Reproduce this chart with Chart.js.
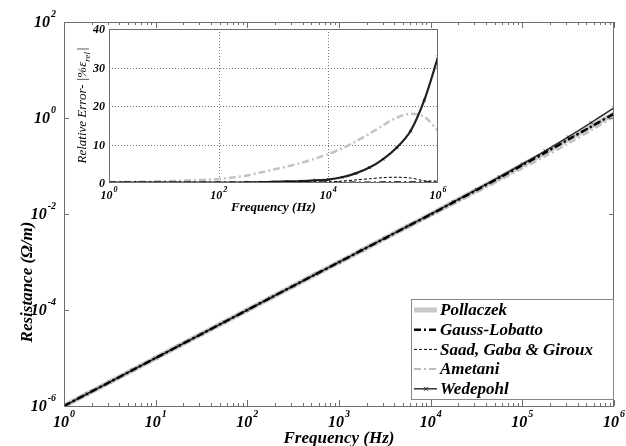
<!DOCTYPE html>
<html>
<head>
<meta charset="utf-8">
<script src="https://cdn.jsdelivr.net/npm/chart.js"></script>
<style>
  body { margin: 0; background: #fff; }
  #wrap { position: relative; width: 626px; height: 446px; }
  #wrap canvas { position: absolute; left: 0; top: 0; }
</style>
</head>
<body>
<div id="wrap">
  <canvas id="mainChart" width="626" height="446"></canvas>
  <canvas id="insetChart" width="626" height="446"></canvas>
</div>
<script>
// frequencies, quarter decade steps (Hz)
const freq = [1, 1.778, 3.162, 5.623, 10, 17.78, 31.62, 56.23, 100, 177.8, 316.2, 562.3,
  1000, 1778, 3162, 5623, 10000, 17783, 31623, 56234, 100000, 177828, 316228, 562341, 1000000];

// resistance (ohm/m)
const rPollaczek = [1.0e-6, 1.78e-6, 3.16e-6, 5.62e-6, 1.0e-5, 1.78e-5, 3.16e-5, 5.62e-5, 1.0e-4, 1.78e-4, 3.16e-4, 5.62e-4,
  9.9e-4, 1.76e-3, 3.12e-3, 5.55e-3, 9.8e-3, 1.76e-2, 3.15e-2, 5.7e-2, 0.104, 0.19, 0.355, 0.66, 1.23];
const rGauss = [1.0e-6, 1.78e-6, 3.16e-6, 5.62e-6, 1.0e-5, 1.78e-5, 3.16e-5, 5.62e-5, 1.0e-4, 1.78e-4, 3.16e-4, 5.62e-4,
  9.9e-4, 1.76e-3, 3.12e-3, 5.55e-3, 9.8e-3, 1.76e-2, 3.15e-2, 5.7e-2, 0.104, 0.19, 0.355, 0.66, 1.23];
const rSaad = [1.0e-6, 1.78e-6, 3.16e-6, 5.62e-6, 1.0e-5, 1.78e-5, 3.16e-5, 5.62e-5, 1.0e-4, 1.78e-4, 3.16e-4, 5.62e-4,
  9.9e-4, 1.76e-3, 3.12e-3, 5.56e-3, 9.83e-3, 1.77e-2, 3.18e-2, 5.76e-2, 0.1055, 0.193, 0.36, 0.664, 1.236];
const rAmetani = [1.0e-6, 1.78e-6, 3.15e-6, 5.6e-6, 0.995e-5, 1.77e-5, 3.14e-5, 5.57e-5, 0.99e-4, 1.755e-4, 3.1e-4, 5.47e-4,
  9.55e-4, 1.68e-3, 2.96e-3, 5.2e-3, 9.07e-3, 1.6e-2, 2.81e-2, 4.97e-2, 0.0884, 0.158, 0.291, 0.546, 1.063];
const rWedepohl = [1.0e-6, 1.78e-6, 3.16e-6, 5.62e-6, 1.0e-5, 1.78e-5, 3.16e-5, 5.62e-5, 1.0e-4, 1.78e-4, 3.16e-4, 5.63e-4,
  9.93e-4, 1.77e-3, 3.14e-3, 5.59e-3, 9.9e-3, 1.79e-2, 3.23e-2, 5.93e-2, 0.110, 0.207, 0.403, 0.80, 1.63];

// relative error (%)
const eGauss = [0.05, 0.05, 0.05, 0.05, 0.05, 0.05, 0.05, 0.05, 0.05, 0.05, 0.05, 0.05,
  0.05, 0.05, 0.05, 0.05, 0.05, 0.05, 0.05, 0.08, 0.1, 0.1, 0.1, 0.1, 0.1];
const eSaad = [0, 0, 0, 0, 0, 0, 0, 0, 0, 0, 0, 0,
  0.02, 0.05, 0.1, 0.2, 0.3, 0.5, 0.8, 1.1, 1.4, 1.5, 1.3, 0.6, 0.5];
const eAmetani = [0.2, 0.25, 0.3, 0.35, 0.45, 0.55, 0.7, 0.85, 1.05, 1.4, 1.9, 2.7,
  3.5, 4.3, 5.2, 6.3, 7.5, 9.0, 10.8, 12.8, 15.0, 17.0, 18.0, 17.2, 13.6];
const eWedepohl = [0.1, 0.1, 0.1, 0.1, 0.1, 0.1, 0.1, 0.1, 0.1, 0.1, 0.15, 0.2,
  0.3, 0.4, 0.5, 0.7, 0.9, 1.5, 2.5, 4.0, 6.2, 9.2, 13.5, 21.5, 32.7];

const xDecades = [0, 1, 2, 3, 4, 5, 6];
const yDecades = [2, 0, -2, -4, -6];
const insetXDecades = [0, 2, 4, 6];
const insetYTicks = [0, 10, 20, 30, 40];

const legendNames = ['Pollaczek', 'Gauss-Lobatto', 'Saad, Gaba & Giroux', 'Ametani', 'Wedepohl'];

const SERIF = '"Liberation Serif", "Times New Roman", serif';
const AXIS = '#6e6e6e';

function pts(ys) { return freq.map((f, i) => ({ x: f, y: ys[i] })); }

// "10" with a raised exponent
function drawPow(ctx, exp, x, y, size, align) {
  const es = Math.round(size * 0.65);
  ctx.font = `italic bold ${size}px ${SERIF}`;
  const wb = ctx.measureText('10').width;
  ctx.font = `italic bold ${es}px ${SERIF}`;
  const we = ctx.measureText(exp).width;
  const left = align === 'right' ? x - wb - we - 1 : x - (wb + we + 1) / 2;
  ctx.textAlign = 'left';
  ctx.textBaseline = 'alphabetic';
  ctx.font = `italic bold ${size}px ${SERIF}`;
  ctx.fillText('10', left, y);
  ctx.font = `italic bold ${es}px ${SERIF}`;
  ctx.fillText(exp, left + wb + 1, y - size * 0.6);
}

function line(ctx, x1, y1, x2, y2) {
  ctx.beginPath(); ctx.moveTo(x1, y1); ctx.lineTo(x2, y2); ctx.stroke();
}

const mainDecor = {
  id: 'mainDecor',
  afterDraw(chart) {
    const { ctx, chartArea: a, scales: { x, y } } = chart;
    ctx.save();
    ctx.strokeStyle = AXIS;
    ctx.lineWidth = 1;
    ctx.strokeRect(a.left + 0.5, a.top + 0.5, a.right - a.left - 1, a.bottom - a.top);
    // x ticks, major and minor, top and bottom, pointing in
    for (let d = 0; d < 6; d++) {
      for (let k = 1; k <= 10; k++) {
        const px = Math.round(x.getPixelForValue(k * Math.pow(10, d))) + 0.5;
        const len = (k === 1 || k === 10) ? 6 : 3;
        line(ctx, px, a.bottom, px, a.bottom - len);
        line(ctx, px, a.top, px, a.top + len);
      }
    }
    yDecades.forEach(d => {
      const py = Math.round(y.getPixelForValue(Math.pow(10, d))) + 0.5;
      line(ctx, a.left, py, a.left + 5, py);
      line(ctx, a.right, py, a.right - 5, py);
    });
    ctx.fillStyle = '#000';
    xDecades.forEach(d => drawPow(ctx, String(d), x.getPixelForValue(Math.pow(10, d)), a.bottom + 21, 16, 'center'));
    yDecades.forEach(d => drawPow(ctx, String(d), a.left - 8, y.getPixelForValue(Math.pow(10, d)) + 5, 16, 'right'));
    ctx.font = `italic bold 17px ${SERIF}`;
    ctx.textAlign = 'center';
    ctx.textBaseline = 'alphabetic';
    ctx.fillText('Frequency (Hz)', (a.left + a.right) / 2, 443);
    ctx.save();
    ctx.translate(32, 282);
    ctx.rotate(-Math.PI / 2);
    ctx.fillText('Resistance (\u03A9/m)', 0, 0);
    ctx.restore();

    // legend box
    const lx = 411, ly = 299, lw = 202, lh = 100;
    ctx.fillStyle = '#fff';
    ctx.fillRect(lx, ly, lw, lh);
    ctx.strokeStyle = '#888';
    ctx.strokeRect(lx + 0.5, ly + 0.5, lw, lh);
    chart.data.datasets.forEach((ds, i) => {
      const cy = 310 + i * 19.7;
      ctx.save();
      ctx.strokeStyle = ds.borderColor;
      ctx.lineWidth = ds.borderWidth;
      ctx.setLineDash(ds.borderDash || []);
      line(ctx, 414, cy, 437, cy);
      if (ds.pointRadius) {
        ctx.setLineDash([]);
        ctx.lineWidth = 1;
        line(ctx, 424, cy - 2, 428, cy + 2);
        line(ctx, 424, cy + 2, 428, cy - 2);
      }
      ctx.restore();
      ctx.fillStyle = '#000';
      ctx.font = `italic bold 17px ${SERIF}`;
      ctx.textAlign = 'left';
      ctx.textBaseline = 'middle';
      ctx.fillText(legendNames[i], 440, cy + 1);
    });
    ctx.restore();
  }
};

const insetDecor = {
  id: 'insetDecor',
  beforeDatasetsDraw(chart) {
    const { ctx, chartArea: a, scales: { x, y } } = chart;
    ctx.save();
    ctx.fillStyle = '#fff';
    ctx.fillRect(a.left, a.top, a.right - a.left, a.bottom - a.top);
    ctx.strokeStyle = '#777';
    ctx.lineWidth = 1;
    ctx.setLineDash([1, 2]);
    [2, 4].forEach(d => {
      const px = Math.round(x.getPixelForValue(Math.pow(10, d))) + 0.5;
      line(ctx, px, a.top, px, a.bottom);
    });
    [10, 20, 30].forEach(v => {
      const py = Math.round(y.getPixelForValue(v)) + 0.5;
      line(ctx, a.left, py, a.right, py);
    });
    ctx.restore();
  },
  afterDraw(chart) {
    const { ctx, chartArea: a, scales: { x, y } } = chart;
    ctx.save();
    ctx.strokeStyle = AXIS;
    ctx.lineWidth = 1;
    ctx.strokeRect(a.left + 0.5, a.top + 0.5, a.right - a.left - 1, a.bottom - a.top - 1);
    ctx.fillStyle = '#000';
    insetXDecades.forEach(d => drawPow(ctx, String(d), x.getPixelForValue(Math.pow(10, d)), a.bottom + 16, 12, 'center'));
    ctx.font = `italic bold 12px ${SERIF}`;
    ctx.textAlign = 'right';
    ctx.textBaseline = 'alphabetic';
    insetYTicks.forEach(v => ctx.fillText(String(v), a.left - 4, y.getPixelForValue(v) + 4));
    ctx.font = `italic bold 13px ${SERIF}`;
    ctx.textAlign = 'center';
    ctx.fillText('Frequency (Hz)', (a.left + a.right) / 2, a.bottom + 28);
    // rotated y title with subscript
    ctx.translate(86, (a.top + a.bottom) / 2);
    ctx.rotate(-Math.PI / 2);
    const main = 'Relative Error- |%\u03B5', sub = 'rel', tail = '|';
    ctx.font = `italic 13px ${SERIF}`;
    const w1 = ctx.measureText(main).width;
    ctx.font = `italic 9px ${SERIF}`;
    const w2 = ctx.measureText(sub).width;
    ctx.font = `italic 13px ${SERIF}`;
    const w3 = ctx.measureText(tail).width;
    const sx = -(w1 + w2 + w3) / 2;
    ctx.textAlign = 'left';
    ctx.fillText(main, sx, 0);
    ctx.font = `italic 9px ${SERIF}`;
    ctx.fillText(sub, sx + w1, 4);
    ctx.font = `italic 13px ${SERIF}`;
    ctx.fillText(tail, sx + w1 + w2 + 1, 0);
    ctx.restore();
  }
};

function styled(label, ys, style) {
  return Object.assign({ label, data: pts(ys), fill: false, tension: 0.3, pointRadius: 0 }, style);
}

const mainSets = [
  styled('Pollaczek', rPollaczek, { borderColor: '#c8c8c8', borderWidth: 5, order: 5 }),
  styled('Gauss-Lobatto', rGauss, { borderColor: '#000', borderWidth: 2.5, borderDash: [7, 3, 2, 3], order: 1 }),
  styled('Saad, Gaba & Giroux', rSaad, { borderColor: '#000', borderWidth: 1, borderDash: [3, 2], order: 2 }),
  styled('Ametani', rAmetani, { borderColor: '#bdbdbd', borderWidth: 2, borderDash: [7, 3, 2, 3], order: 4 }),
  styled('Wedepohl', rWedepohl, { borderColor: '#333', borderWidth: 1.5, order: 3,
    pointRadius: 2, pointStyle: 'crossRot', pointBorderColor: '#222', pointBorderWidth: 1 })
];

const insetSets = [
  styled('Gauss-Lobatto', eGauss, { borderColor: '#000', borderWidth: 2.5, borderDash: [7, 3, 2, 3], order: 1 }),
  styled('Saad, Gaba & Giroux', eSaad, { borderColor: '#000', borderWidth: 1, borderDash: [3, 2], order: 2 }),
  styled('Ametani', eAmetani, { borderColor: '#c4c4c4', borderWidth: 2.5, borderDash: [7, 3, 2, 3], order: 4 }),
  styled('Wedepohl', eWedepohl, { borderColor: '#222', borderWidth: 2.2, order: 3,
    pointRadius: 1.8, pointStyle: 'crossRot', pointBorderColor: '#111', pointBorderWidth: 1 })
];

new Chart(document.getElementById('mainChart'), {
  type: 'line',
  data: { datasets: mainSets },
  options: {
    responsive: false,
    animation: false,
    devicePixelRatio: 1,
    layout: { padding: { left: 64, right: 12, top: 22, bottom: 40 } },
    plugins: { legend: { display: false }, tooltip: { enabled: false } },
    scales: {
      x: { type: 'logarithmic', min: 1, max: 1e6, display: false },
      y: { type: 'logarithmic', min: 1e-6, max: 1e2, display: false }
    }
  },
  plugins: [mainDecor]
});

new Chart(document.getElementById('insetChart'), {
  type: 'line',
  data: { datasets: insetSets },
  options: {
    responsive: false,
    animation: false,
    devicePixelRatio: 1,
    layout: { padding: { left: 109, right: 188, top: 29, bottom: 263 } },
    plugins: { legend: { display: false }, tooltip: { enabled: false } },
    scales: {
      x: { type: 'logarithmic', min: 1, max: 1e6, display: false },
      y: { type: 'linear', min: 0, max: 40, display: false }
    }
  },
  plugins: [insetDecor]
});
</script>
</body>
</html>
